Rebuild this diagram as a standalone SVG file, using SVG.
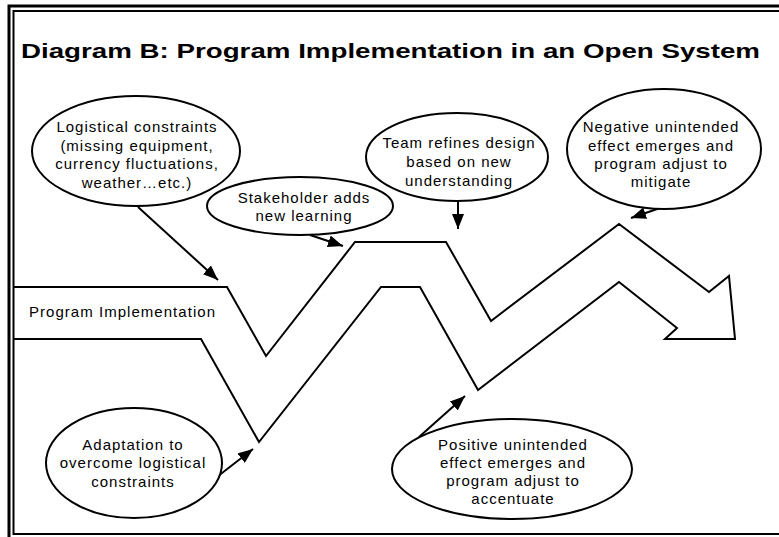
<svg xmlns="http://www.w3.org/2000/svg" width="779" height="537" viewBox="0 0 779 537">
<style>
.t{font-family:"Liberation Sans",Arial,sans-serif;font-size:15px;letter-spacing:1px;fill:#000;text-anchor:middle}
.e{fill:#fff;stroke:#000;stroke-width:2}
.c{fill:none;stroke:#000;stroke-width:2}
</style>
<defs>
<marker id="ah" markerUnits="userSpaceOnUse" markerWidth="16" markerHeight="12" refX="15" refY="6" orient="auto">
<path d="M0,0 L15,6 L0,12 Z" fill="#000"/>
</marker>
</defs>
<rect width="779" height="537" fill="#fff"/>
<g id="frame" fill="none" stroke="#000">
<path d="M781,6 H9 V540" stroke-width="3"/>
<path d="M781,11 H13.5 V534 H781" stroke-width="2"/>
</g>
<text id="title" x="21" y="58" font-family="'Liberation Sans',Arial,sans-serif" font-size="21" font-weight="bold" textLength="739" lengthAdjust="spacingAndGlyphs">Diagram B: Program Implementation in an Open System</text>
<g id="arrow-band">
<path d="M13,287 L227,287 L266,356 L355,242 L446,242 L491,321 L619,224 L709,292 L729,276 L735,339 L665,339 L677,328 L619,282 L478,390 L420,287 L381,287 L259,442 L201,339 L13,339" fill="none" stroke="#000" stroke-width="2" stroke-linejoin="miter"/>
<text x="29" y="317" font-family="'Liberation Sans',Arial,sans-serif" font-size="15" textLength="186" lengthAdjust="spacing">Program Implementation</text>
</g>
<g id="connectors">
<line class="c" x1="138" y1="207" x2="218" y2="280" marker-end="url(#ah)"/>
<line class="c" x1="310" y1="235" x2="343" y2="246" marker-end="url(#ah)"/>
<line class="c" x1="458" y1="200" x2="458" y2="229" marker-end="url(#ah)"/>
<line class="c" x1="663" y1="207" x2="631" y2="218" marker-end="url(#ah)"/>
<line class="c" x1="213" y1="480" x2="253" y2="449" marker-end="url(#ah)"/>
<line class="c" x1="419" y1="437" x2="465" y2="396" marker-end="url(#ah)"/>
</g>
<g id="n-logistical">
<ellipse class="e" cx="136" cy="151" rx="104" ry="55"/>
<text class="t" x="137" y="132">Logistical constraints</text>
<text class="t" x="137" y="151">(missing equipment,</text>
<text class="t" x="137" y="169">currency fluctuations,</text>
<text class="t" x="137" y="188">weather…etc.)</text>
</g>
<g id="n-stakeholder">
<ellipse class="e" cx="300" cy="206" rx="93" ry="29"/>
<text class="t" x="304" y="203">Stakeholder adds</text>
<text class="t" x="304" y="221">new learning</text>
</g>
<g id="n-team">
<ellipse class="e" cx="457" cy="157" rx="91" ry="44"/>
<text class="t" x="459" y="148">Team refines design</text>
<text class="t" x="459" y="167">based on new</text>
<text class="t" x="459" y="186">understanding</text>
</g>
<g id="n-negative">
<ellipse class="e" cx="664" cy="149" rx="97" ry="60"/>
<text class="t" x="661" y="132">Negative unintended</text>
<text class="t" x="661" y="151">effect emerges and</text>
<text class="t" x="661" y="169">program adjust to</text>
<text class="t" x="661" y="187">mitigate</text>
</g>
<g id="n-adaptation">
<ellipse class="e" cx="134" cy="463" rx="88" ry="55"/>
<text class="t" x="133" y="450">Adaptation to</text>
<text class="t" x="133" y="468">overcome logistical</text>
<text class="t" x="133" y="487">constraints</text>
</g>
<g id="n-positive">
<ellipse class="e" cx="512" cy="469" rx="120" ry="50"/>
<text class="t" x="513" y="450">Positive unintended</text>
<text class="t" x="513" y="468">effect emerges and</text>
<text class="t" x="513" y="486">program adjust to</text>
<text class="t" x="513" y="504">accentuate</text>
</g>
</svg>
